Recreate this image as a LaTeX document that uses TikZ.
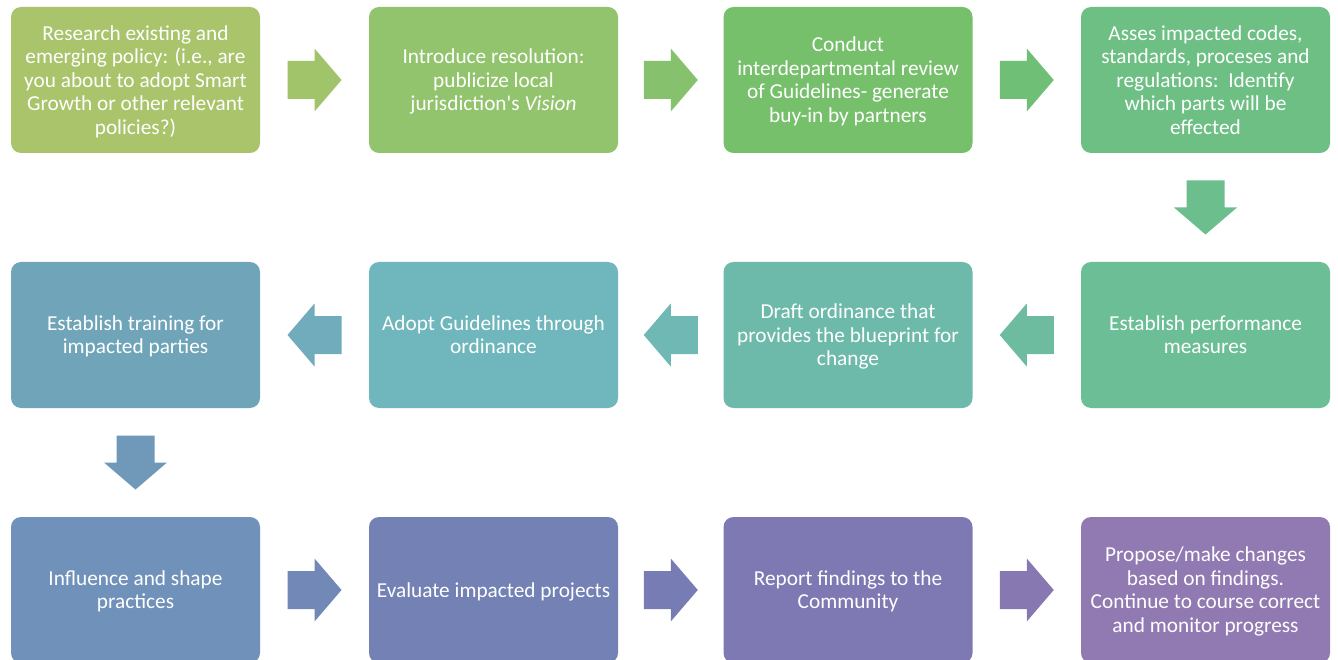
\documentclass[tikz,border=0pt]{standalone}
\usepackage{fontspec}
\setmainfont{Carlito}
\usetikzlibrary{calc}
\definecolor{c1}{HTML}{A9C46B}
\definecolor{c2}{HTML}{92C46E}
\definecolor{c3}{HTML}{76C06C}
\definecolor{c4}{HTML}{6DBF84}
\definecolor{c5}{HTML}{6CBE97}
\definecolor{c6}{HTML}{6EBAAA}
\definecolor{c7}{HTML}{70B7BD}
\definecolor{c8}{HTML}{70A5B9}
\definecolor{c9}{HTML}{7091B9}
\definecolor{c10}{HTML}{7381B5}
\definecolor{c11}{HTML}{7E78B3}
\definecolor{c12}{HTML}{9179B2}
\definecolor{a1}{HTML}{A1C46B}
\definecolor{a2}{HTML}{86C26D}
\definecolor{a3}{HTML}{6FBF76}
\definecolor{a4}{HTML}{6CBE8D}
\definecolor{a5}{HTML}{6DBCA0}
\definecolor{a6}{HTML}{6FB8B4}
\definecolor{a7}{HTML}{70ACBB}
\definecolor{a8}{HTML}{7099B9}
\definecolor{a9}{HTML}{7288B7}
\definecolor{a10}{HTML}{787CB4}
\definecolor{a11}{HTML}{8878B2}
\newcommand\blockarrow[3]{%
  \fill[#3, shift={(#1)}, rotate=#2] (-27,-19) -- (0,-19) -- (0,-31.5) -- (27,0) -- (0,31.5) -- (0,19) -- (-27,19) -- cycle;}
\newcommand\bt[1]{\raisebox{-2.5pt}[\height][\depth]{\begin{tabular}{@{}c@{}}#1\end{tabular}}}
\begin{document}
\begin{tikzpicture}[x=1pt,y=-1pt,
  box/.style={rounded corners=10pt, minimum width=249pt, minimum height=146pt,
    text=white, inner sep=0pt,
    font=\fontsize{21.3}{23.5}\selectfont},
]
\useasboundingbox (0,0) rectangle (1338,660);
\clip (0,0) rectangle (1338,660);
\fill[white] (0,0) rectangle (1338,660);
% row 1
\node[box, fill=c1] (b1) at (135.5,80) {\bt{Research existing and\\emerging policy: (i.e., are\\you about to adopt Smart\\Growth or other relevant\\policies?)}};
\node[box, fill=c2] (b2) at (493.5,80) {\bt{Introduce resolution:\\publicize local\\jurisdiction\textquotesingle s \emph{Vision}}};
\node[box, fill=c3] (b3) at (848,80) {\bt{Conduct\\interdepartmental review\\of Guidelines- generate\\buy-in by partners}};
\node[box, fill=c4] (b4) at (1205.5,80) {\bt{Asses impacted codes,\\standards, proceses and\\regulations:\ \ Identify\\which parts will be\\effected}};
% row 2
\node[box, fill=c5] (b5) at (1205.5,335) {\bt{Establish performance\\measures}};
\node[box, fill=c6] (b6) at (848,335) {\bt{Draft ordinance that\\provides the blueprint for\\change}};
\node[box, fill=c7] (b7) at (493.5,335) {\bt{Adopt Guidelines through\\ordinance}};
\node[box, fill=c8] (b8) at (135.5,335) {\bt{Establish training for\\impacted parties}};
% row 3
\node[box, fill=c9] (b9) at (135.5,590) {\bt{Influence and shape\\practices}};
\node[box, fill=c10] (b10) at (493.5,590) {\bt{Evaluate impacted projects}};
\node[box, fill=c11] (b11) at (848,590) {\bt{Report findings to the\\Community}};
\node[box, fill=c12] (b12) at (1205.5,590) {\bt{Propose/make changes\\based on findings.\\Continue to course correct\\and monitor progress}};
% arrows
\coordinate (m12) at ($(b1.east)!0.5!(b2.west)$);
\coordinate (m23) at ($(b2.east)!0.5!(b3.west)$);
\coordinate (m34) at ($(b3.east)!0.5!(b4.west)$);
\coordinate (m45) at ($(b4.south)!0.5!(b5.north)$);
\coordinate (m56) at ($(b5.west)!0.5!(b6.east)$);
\coordinate (m67) at ($(b6.west)!0.5!(b7.east)$);
\coordinate (m78) at ($(b7.west)!0.5!(b8.east)$);
\coordinate (m89) at ($(b8.south)!0.5!(b9.north)$);
\coordinate (m910) at ($(b9.east)!0.5!(b10.west)$);
\coordinate (m1011) at ($(b10.east)!0.5!(b11.west)$);
\coordinate (m1112) at ($(b11.east)!0.5!(b12.west)$);
\blockarrow{m12}{0}{a1}
\blockarrow{m23}{0}{a2}
\blockarrow{m34}{0}{a3}
\blockarrow{m45}{-90}{a4}
\blockarrow{m56}{180}{a5}
\blockarrow{m67}{180}{a6}
\blockarrow{m78}{180}{a7}
\blockarrow{m89}{-90}{a8}
\blockarrow{m910}{0}{a9}
\blockarrow{m1011}{0}{a10}
\blockarrow{m1112}{0}{a11}
\end{tikzpicture}
\end{document}
